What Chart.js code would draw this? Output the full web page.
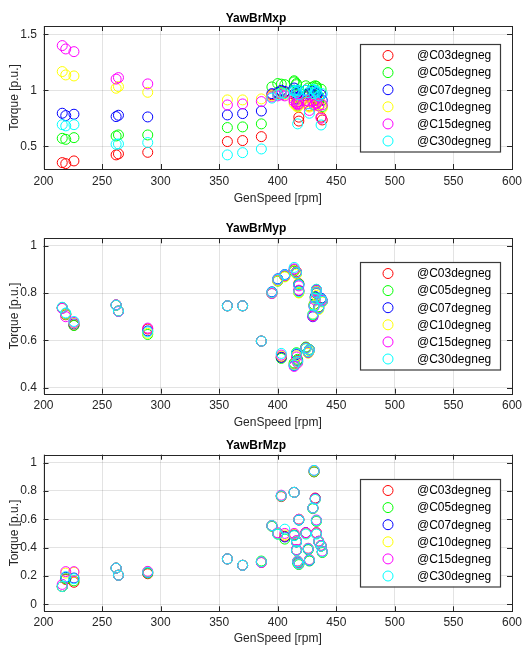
<!DOCTYPE html>
<html>
<head>
<meta charset="utf-8">
<script src="https://cdn.jsdelivr.net/npm/chart.js@4.4.0/dist/chart.umd.min.js"></script>
<style>
html,body{margin:0;padding:0;background:#fff;}
#wrap{position:relative;width:529px;height:646px;overflow:hidden;}
#wrap canvas{position:absolute;left:0;}
</style>
</head>
<body>
<div id="wrap">
<canvas id="mxChart" width="529" height="212" style="top:0px"></canvas>
<canvas id="myChart" width="529" height="220" style="top:212px"></canvas>
<canvas id="mzChart" width="529" height="214" style="top:432px"></canvas>
</div>
<script>
// generator speed of every load case [rpm]
const genSpeed = [216, 219, 226, 262, 264, 289, 357, 370, 386, 395, 400, 403, 406, 414, 414, 416,
  416, 417, 418, 418, 424, 426, 427, 430, 431, 432, 433, 433, 435, 437, 438];

const caseNames = ["@C03degneg", "@C05degneg", "@C07degneg", "@C10degneg", "@C15degneg", "@C30degneg"];
const caseColors = ["#ff0000", "#00ff00", "#0000ff", "#ffff00", "#ff00ff", "#00ffff"];

const xTicks = [200, 250, 300, 350, 400, 450, 500, 550, 600];
const mxpTicks = [0.5, 1, 1.5];
const mypTicks = [0.4, 0.6, 0.8, 1];
const mzpTicks = [0, 0.2, 0.4, 0.6, 0.8, 1];

// YawBrMxp
const mxp03 = [0.354, 0.345, 0.369, 0.423, 0.432, 0.446, 0.542, 0.551, 0.586, 0.96, 0.97, 0.99, 0.98, 1.00, 0.97, 0.95, 0.93, 0.90, 0.76, 0.725, 0.95, 0.90, 0.86, 0.97, 0.93, 0.96, 0.92, 0.95, 0.90, 0.76, 0.735];
const mxp05 = [0.571, 0.562, 0.577, 0.592, 0.601, 0.601, 0.667, 0.673, 0.700, 1.03, 1.06, 1.055, 1.05, 1.075, 1.085, 1.06, 1.05, 0.86, 1.00, 0.96, 1.04, 1.02, 0.97, 1.03, 1.00, 1.04, 1.035, 1.02, 0.92, 1.01, 0.855];
const mxp07 = [0.795, 0.774, 0.786, 0.765, 0.777, 0.762, 0.780, 0.792, 0.815, 0.97, 0.98, 1.00, 0.99, 1.02, 1.00, 0.98, 0.97, 0.92, 0.94, 0.93, 1.00, 0.97, 0.96, 0.99, 0.95, 0.98, 0.96, 0.97, 0.94, 0.96, 0.91];
const mxp10 = [1.167, 1.137, 1.128, 1.018, 1.033, 0.982, 0.914, 0.914, 0.923, 0.95, 0.96, 0.97, 0.96, 0.90, 0.88, 0.87, 0.86, 0.85, 0.87, 0.88, 0.89, 0.86, 0.85, 0.88, 0.86, 0.89, 0.87, 0.88, 0.86, 0.88, 0.84];
const mxp15 = [1.399, 1.369, 1.345, 1.100, 1.113, 1.057, 0.869, 0.878, 0.899, 0.94, 0.95, 0.96, 0.95, 0.92, 0.90, 0.89, 0.88, 0.87, 0.90, 0.88, 0.91, 0.88, 0.82, 0.90, 0.87, 0.91, 0.88, 0.89, 0.86, 0.75, 0.87];
const mxp30 = [0.693, 0.682, 0.693, 0.518, 0.521, 0.533, 0.423, 0.443, 0.476, 0.93, 0.96, 0.98, 0.97, 1.00, 0.99, 1.00, 0.98, 0.70, 1.00, 0.96, 1.00, 0.98, 0.795, 1.01, 0.97, 1.00, 0.98, 0.99, 0.95, 0.69, 0.97];

// YawBrMyp
const myp03 = [0.738, 0.708, 0.664, 0.750, 0.724, 0.648, 0.746, 0.746, 0.597, 0.800, 0.855, 0.530, 0.872, 0.895, 0.500, 0.890, 0.545, 0.515, 0.840, 0.810, 0.570, 0.550, 0.560, 0.705, 0.750, 0.780, 0.800, 0.815, 0.740, 0.775, 0.765];
const myp05 = [0.736, 0.710, 0.663, 0.748, 0.723, 0.625, 0.746, 0.746, 0.597, 0.798, 0.850, 0.524, 0.870, 0.892, 0.505, 0.884, 0.548, 0.520, 0.838, 0.802, 0.572, 0.552, 0.562, 0.708, 0.752, 0.782, 0.798, 0.812, 0.742, 0.772, 0.768];
const myp07 = [0.738, 0.712, 0.670, 0.749, 0.724, 0.640, 0.746, 0.746, 0.597, 0.805, 0.860, 0.528, 0.878, 0.898, 0.494, 0.885, 0.540, 0.512, 0.835, 0.808, 0.566, 0.548, 0.558, 0.700, 0.745, 0.785, 0.805, 0.810, 0.735, 0.778, 0.765];
const myp10 = [0.737, 0.711, 0.673, 0.749, 0.724, 0.630, 0.746, 0.746, 0.597, 0.800, 0.852, 0.534, 0.868, 0.896, 0.498, 0.880, 0.535, 0.508, 0.800, 0.804, 0.565, 0.546, 0.556, 0.712, 0.748, 0.775, 0.790, 0.808, 0.730, 0.770, 0.762];
const myp15 = [0.735, 0.700, 0.676, 0.750, 0.722, 0.652, 0.746, 0.746, 0.597, 0.798, 0.856, 0.538, 0.874, 0.902, 0.490, 0.888, 0.530, 0.505, 0.830, 0.812, 0.568, 0.550, 0.560, 0.702, 0.742, 0.770, 0.800, 0.812, 0.738, 0.770, 0.768];
const myp30 = [0.740, 0.716, 0.680, 0.749, 0.724, 0.636, 0.746, 0.746, 0.597, 0.803, 0.858, 0.545, 0.877, 0.908, 0.496, 0.886, 0.545, 0.512, 0.835, 0.806, 0.566, 0.552, 0.560, 0.710, 0.745, 0.778, 0.802, 0.816, 0.735, 0.775, 0.765];

// YawBrMzp
const mzp03 = [0.125, 0.175, 0.155, 0.255, 0.205, 0.215, 0.320, 0.275, 0.295, 0.555, 0.500, 0.760, 0.480, 0.790, 0.490, 0.445, 0.385, 0.300, 0.600, 0.290, 0.505, 0.390, 0.310, 0.680, 0.935, 0.750, 0.590, 0.505, 0.445, 0.415, 0.370];
const mzp05 = [0.125, 0.180, 0.165, 0.255, 0.205, 0.220, 0.320, 0.275, 0.305, 0.550, 0.495, 0.765, 0.460, 0.790, 0.485, 0.440, 0.380, 0.290, 0.595, 0.280, 0.500, 0.385, 0.305, 0.675, 0.935, 0.745, 0.585, 0.500, 0.440, 0.410, 0.365];
const mzp07 = [0.125, 0.190, 0.185, 0.255, 0.205, 0.225, 0.320, 0.275, 0.300, 0.555, 0.500, 0.765, 0.475, 0.790, 0.490, 0.440, 0.380, 0.300, 0.595, 0.285, 0.505, 0.390, 0.310, 0.680, 0.940, 0.745, 0.590, 0.500, 0.440, 0.410, 0.370];
const mzp10 = [0.125, 0.220, 0.225, 0.255, 0.205, 0.230, 0.320, 0.275, 0.300, 0.555, 0.500, 0.765, 0.490, 0.790, 0.495, 0.445, 0.380, 0.305, 0.600, 0.285, 0.500, 0.395, 0.315, 0.680, 0.940, 0.740, 0.590, 0.500, 0.440, 0.410, 0.370];
const mzp15 = [0.140, 0.230, 0.230, 0.255, 0.205, 0.232, 0.320, 0.275, 0.295, 0.555, 0.505, 0.770, 0.500, 0.790, 0.500, 0.450, 0.385, 0.305, 0.600, 0.290, 0.505, 0.395, 0.315, 0.680, 0.945, 0.745, 0.595, 0.505, 0.445, 0.415, 0.375];
const mzp30 = [0.125, 0.195, 0.180, 0.255, 0.205, 0.225, 0.320, 0.275, 0.300, 0.555, 0.495, 0.765, 0.530, 0.790, 0.485, 0.440, 0.380, 0.300, 0.595, 0.285, 0.495, 0.390, 0.310, 0.680, 0.945, 0.740, 0.590, 0.495, 0.440, 0.410, 0.370];

const axisColor = "#262626";
const gridColor = "rgba(38,38,38,0.13)";

Chart.defaults.font.family = "'Liberation Sans', Arial, Helvetica, sans-serif";
Chart.defaults.font.size = 12;
Chart.defaults.color = axisColor;

// black box round the plot area, with short inward ticks on all four sides
const axesBox = {
  id: "axesBox",
  afterDatasetsDraw(chart) {
    const {ctx, chartArea: a, scales: {x, y}} = chart;
    const tl = 5;
    ctx.save();
    ctx.strokeStyle = axisColor;
    ctx.lineWidth = 1;
    ctx.beginPath();
    x.ticks.forEach(t => {
      const px = Math.round(x.getPixelForValue(t.value)) + 0.5;
      ctx.moveTo(px, a.top); ctx.lineTo(px, a.top + tl);
      ctx.moveTo(px, a.bottom); ctx.lineTo(px, a.bottom - tl);
    });
    y.ticks.forEach(t => {
      const py = Math.round(y.getPixelForValue(t.value)) + 0.5;
      ctx.moveTo(a.left, py); ctx.lineTo(a.left + tl, py);
      ctx.moveTo(a.right, py); ctx.lineTo(a.right - tl, py);
    });
    ctx.stroke();
    ctx.strokeRect(Math.round(a.left) + 0.5, Math.round(a.top) + 0.5,
      Math.round(a.right) - Math.round(a.left), Math.round(a.bottom) - Math.round(a.top));
    ctx.restore();
  }
};

// boxed legend sitting at the east side of the plot area
const boxLegend = {
  id: "boxLegend",
  afterDraw(chart) {
    const {ctx, chartArea: a} = chart;
    const sets = chart.data.datasets;
    const rowH = 17.1;
    const w = 140;
    const h = rowH * (sets.length - 1) + 22;
    const right = Math.round(a.right - 12);
    const left = right - w;
    const top = Math.round((a.top + a.bottom) / 2 - h / 2);
    ctx.save();
    ctx.fillStyle = "#fff";
    ctx.fillRect(left, top, w, h);
    ctx.strokeStyle = "#3a3a3a";
    ctx.lineWidth = 1.2;
    ctx.strokeRect(left + 0.5, top + 0.5, w, h);
    ctx.font = "12px 'Liberation Sans', Arial, sans-serif";
    ctx.textBaseline = "middle";
    ctx.textAlign = "left";
    sets.forEach((ds, i) => {
      const cy = top + 11.5 + i * rowH;
      ctx.beginPath();
      ctx.arc(left + 28, cy, 5, 0, Math.PI * 2);
      ctx.strokeStyle = ds.borderColor;
      ctx.lineWidth = 1;
      ctx.stroke();
      ctx.fillStyle = "#000";
      ctx.fillText(ds.label, left + 57, cy + 0.5);
    });
    ctx.restore();
  }
};

function caseSets(rows) {
  return rows.map((row, i) => ({
    label: caseNames[i],
    data: row.map((v, k) => ({x: genSpeed[k], y: v})),
    borderColor: caseColors[i],
    backgroundColor: "rgba(0,0,0,0)",
    borderWidth: 1,
    pointRadius: 5,
    pointHoverRadius: 5,
    order: rows.length - i
  }));
}

function drawPanel(id, p) {
  new Chart(document.getElementById(id), {
    type: "scatter",
    data: {datasets: caseSets(p.rows)},
    options: {
      responsive: false,
      animation: false,
      events: [],
      layout: {padding: {left: 0, right: 17, top: 0, bottom: 0}},
      plugins: {
        legend: {display: false},
        tooltip: {enabled: false},
        title: {
          display: true,
          text: p.title,
          color: "#000",
          font: {size: 12, weight: "bold"},
          padding: {top: p.titleTop, bottom: p.titleBottom}
        }
      },
      scales: {
        x: {
          type: "linear",
          min: 200,
          max: 600,
          afterBuildTicks: s => { s.ticks = xTicks.map(value => ({value})); },
          afterFit: s => { s.height = p.xHeight; },
          ticks: {padding: p.xPad, color: axisColor, maxRotation: 0},
          grid: {color: gridColor, drawTicks: false},
          border: {display: false},
          title: {display: true, text: "GenSpeed [rpm]", color: axisColor, padding: {top: 0, bottom: p.xTitleBottom}}
        },
        y: {
          type: "linear",
          min: p.yMin,
          max: p.yMax,
          afterBuildTicks: s => { s.ticks = p.yTicks.map(value => ({value})); },
          afterFit: s => { s.width = 43.5; },
          ticks: {padding: 6.5, color: axisColor, callback: v => String(v)},
          grid: {color: gridColor, drawTicks: false},
          border: {display: false},
          title: {display: true, text: "Torque [p.u.]", color: axisColor, padding: {top: 7.8, bottom: 0}}
        }
      }
    },
    plugins: [axesBox, boxLegend]
  });
}

drawPanel("mxChart", {
  title: "YawBrMxp", rows: [mxp03, mxp05, mxp07, mxp10, mxp15, mxp30],
  yMin: 0.297, yMax: 1.574, yTicks: mxpTicks,
  titleTop: 11.5, titleBottom: 0.1, xHeight: 43, xPad: 5, xTitleBottom: 5.8
});
drawPanel("myChart", {
  title: "YawBrMyp", rows: [myp03, myp05, myp07, myp10, myp15, myp30],
  yMin: 0.375, yMax: 1.031, yTicks: mypTicks,
  titleTop: 9.5, titleBottom: 2.4, xHeight: 38.3, xPad: 5, xTitleBottom: 2.1
});
drawPanel("mzChart", {
  title: "YawBrMzp", rows: [mzp03, mzp05, mzp07, mzp10, mzp15, mzp30],
  yMin: -0.05, yMax: 1.056, yTicks: mzpTicks,
  titleTop: 6.1, titleBottom: 2.2, xHeight: 34.7, xPad: 4, xTitleBottom: 0
});
</script>
</body>
</html>
